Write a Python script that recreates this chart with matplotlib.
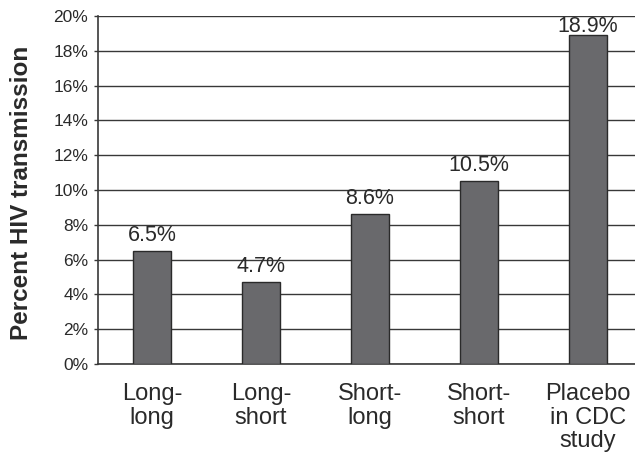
import matplotlib
matplotlib.use("Agg")
import matplotlib.pyplot as plt
import numpy as np

plt.rcParams['font.family'] = ['Liberation Sans', 'DejaVu Sans']

categories = ["Long-\nlong", "Long-\nshort", "Short-\nlong", "Short-\nshort", "Placebo\nin CDC\nstudy"]
values = [6.5, 4.7, 8.6, 10.5, 18.9]
value_labels = ["6.5%", "4.7%", "8.6%", "10.5%", "18.9%"]
yticks = [0, 2, 4, 6, 8, 10, 12, 14, 16, 18, 20]

W, H = 635, 453
fig = plt.figure(figsize=(W / 100, H / 100), dpi=100)
left, right, bottom, top = 98, 635, 364, 16
ax = fig.add_axes([left / W, 1 - bottom / H, (right - left) / W, (bottom - top) / H])

x = np.arange(len(categories))
ax.bar(x, values, width=0.35, color="#69696c", edgecolor="#2a2a2a", linewidth=1.0, zorder=3)

ymax = 20
gap = 0.57        # space between bar top and label baseline (data units)
cap = 0.92        # approximate label height above baseline (data units)
for xi, v, lab in zip(x, values, value_labels):
    y = min(v + gap, ymax - cap)
    ax.text(xi, y, lab, ha="center", va="baseline", fontsize=15.5,
            color="#2a2a2a", zorder=4)

ax.set_ylim(0, ymax)
ax.set_xlim(-0.495, 4.431)
ax.set_yticks(yticks)
ax.set_yticklabels([f"{t}%" for t in yticks], fontsize=12.5, color="#2a2a2a")
ax.yaxis.grid(True, color="#383838", linewidth=1.0, zorder=0)
ax.set_axisbelow(True)
ax.tick_params(axis="y", length=3, width=1, color="#383838", pad=4)

ax.set_xticks(x)
ax.set_xticklabels(categories, fontsize=17, color="#2a2a2a", linespacing=1.08)
ax.tick_params(axis="x", length=0, pad=14)

for s in ["top", "right"]:
    ax.spines[s].set_visible(False)
for s in ["left", "bottom"]:
    ax.spines[s].set_color("#383838")
    ax.spines[s].set_linewidth(1.2)

fig.text(22 / W, 1 - 192.5 / H, "Percent HIV transmission", rotation=90,
         ha="center", va="center", fontsize=17.5, fontweight="bold", color="#2a2a2a")

fig.savefig("out.png", dpi=100)
